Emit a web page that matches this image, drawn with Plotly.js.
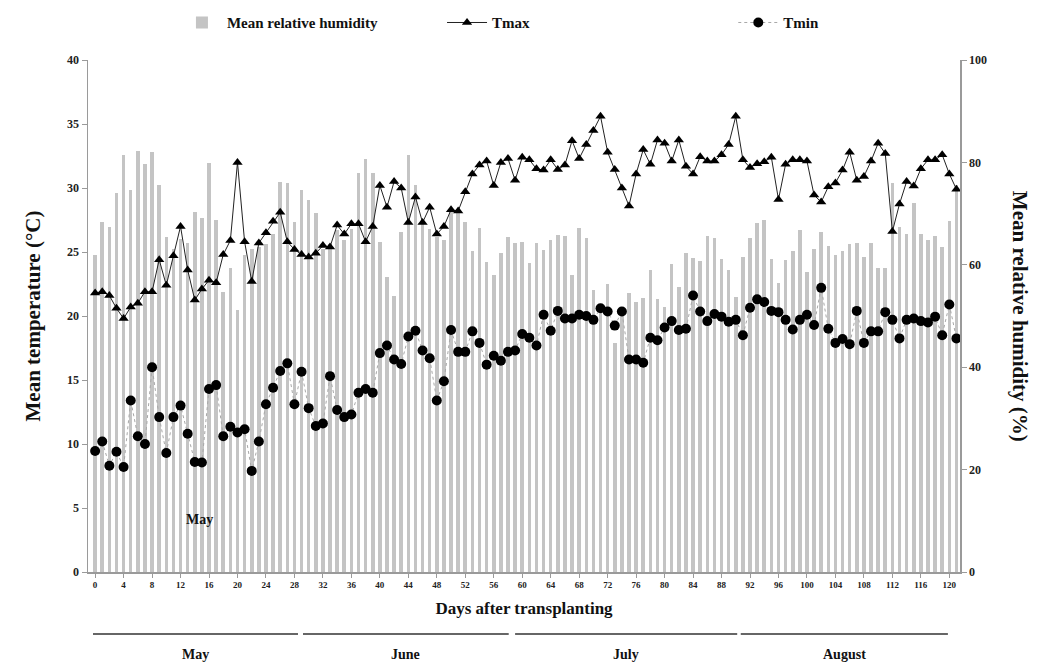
<!DOCTYPE html>
<html>
<head>
<meta charset="utf-8">
<script src="https://cdn.plot.ly/plotly-3.0.1.min.js"></script>
<style>
  html, body { margin: 0; padding: 0; background: #ffffff; }
  #chart { width: 1048px; height: 664px; }
</style>
</head>
<body>
<div id="chart"></div>
<script>
// Days after transplanting (categories)
var days = [0,1,2,3,4,5,6,7,8,9,10,11,12,13,14,15,16,17,18,19,20,21,22,23,24,25,26,27,28,29,
  30,31,32,33,34,35,36,37,38,39,40,41,42,43,44,45,46,47,48,49,50,51,52,53,54,55,56,57,58,59,
  60,61,62,63,64,65,66,67,68,69,70,71,72,73,74,75,76,77,78,79,80,81,82,83,84,85,86,87,88,89,
  90,91,92,93,94,95,96,97,98,99,100,101,102,103,104,105,106,107,108,109,110,111,112,113,114,115,116,117,118,119,
  120,121];

// Mean relative humidity (%)
var humidity = [62,68.4,67.4,74.1,81.4,74.6,82.3,79.7,82.0,75.6,
  65.5,63,65,64.2,70.4,69.1,79.8,68.7,54.6,59.3,
  51.2,62,63,63.5,64,66,76.2,75.9,68.4,74.6,
  72.7,70.1,63,64,66.8,64.8,67,78.0,80.6,78.0,
  64.5,57.7,54.0,66.5,81.4,75.6,68.7,67,65.5,64.8,
  71,70.7,68.4,62.6,67.1,60.6,58.0,62.4,65.4,64.2,
  64.5,60.3,64.2,62.9,64.8,65.8,65.6,58.0,67.1,65.2,
  55.1,52,56.3,44.7,51,54.5,52.8,53.5,59.0,53.3,
  51.7,60.1,55.7,62.4,61.3,60.7,65.6,65.2,61.1,59.0,
  53.8,61.5,65.2,68.1,68.7,61.1,56.5,60.9,62.6,66.8,
  58.5,63.1,66.5,63.7,61.9,62.6,64.1,64.3,61.6,64.2,
  59.3,59.3,75.9,67.3,66.1,72.1,66.0,64.8,65.6,63.5,
  68.6,75.5];

// Maximum temperature (°C)
var tmax = [21.8,21.9,21.6,20.6,19.8,20.7,21.0,21.9,21.9,24.4,
  22.4,24.7,27.0,23.6,21.25,22.1,22.8,22.6,24.8,25.9,
  32.0,25.8,22.7,25.7,26.5,27.4,28.1,25.8,25.2,24.8,
  24.6,24.9,25.5,25.4,27.1,26.4,27.2,27.2,25.8,27.0,
  30.2,28.5,30.5,30.0,27.3,29.3,27.3,28.5,26.4,27.0,
  28.3,28.2,29.7,31.1,31.8,32.1,30.2,32.0,32.3,30.6,
  32.4,32.2,31.5,31.4,32.2,31.45,31.8,33.7,32.3,33.4,
  34.5,35.6,32.8,31.45,30.0,28.6,31.1,33.0,31.85,33.75,
  33.5,32.1,33.75,31.7,31.1,32.45,32.1,32.1,32.6,33.4,
  35.6,32.2,31.6,31.9,32.05,32.4,29.1,31.85,32.2,32.2,
  32.1,29.45,28.9,30.1,30.4,31.4,32.8,30.6,30.9,32.1,
  33.5,32.7,26.6,28.75,30.5,30.15,31.5,32.2,32.2,32.6,
  31.1,29.9];

// Minimum temperature (°C)
var tmin = [9.45,10.2,8.3,9.4,8.2,13.4,10.6,10.0,16.0,12.1,
  9.3,12.1,13.0,10.8,8.6,8.55,14.3,14.6,10.6,11.35,
  10.9,11.15,7.9,10.2,13.1,14.4,15.7,16.3,13.1,15.65,
  12.8,11.4,11.6,15.3,12.65,12.1,12.3,14.0,14.3,14.0,
  17.1,17.7,16.6,16.25,18.4,18.85,17.3,16.7,13.4,14.9,
  18.9,17.2,17.2,18.8,17.9,16.2,16.9,16.5,17.2,17.3,
  18.6,18.3,17.7,20.1,18.85,20.4,19.8,19.8,20.1,20.0,
  19.7,20.6,20.35,19.25,20.35,16.6,16.6,16.35,18.3,18.1,
  19.1,19.6,18.9,19.0,21.6,20.35,19.6,20.15,19.95,19.55,
  19.7,18.5,20.65,21.3,21.1,20.4,20.3,19.7,18.95,19.7,
  20.1,19.3,22.2,19.0,17.9,18.2,17.8,20.4,17.9,18.8,
  18.8,20.3,19.7,18.25,19.7,19.8,19.6,19.5,19.95,18.5,
  20.9,18.25];

// Month bands below the axis (start day, end day, label)
var months = ["May", "June", "July", "August"];
var monthStart = [-0.3, 29.2, 59.0, 90.7];
var monthEnd = [28.5, 58.1, 90.2, 119.8];

var FONT = "'Liberation Serif', 'Times New Roman', serif";

var traces = [
  {
    type: 'bar', name: 'Mean relative humidity', x: days, y: humidity,
    yaxis: 'y', width: 0.5, legend: 'legend',
    marker: { color: '#c4c4c4', line: { width: 0 } }
  },
  {
    type: 'scatter', mode: 'lines+markers', name: 'Tmax', x: days, y: tmax,
    yaxis: 'y2', legend: 'legend2',
    line: { color: '#222222', width: 1 },
    marker: { symbol: 'triangle-up', size: 9, color: '#000000' }
  },
  {
    type: 'scatter', mode: 'lines+markers', name: 'Tmin', x: days, y: tmin,
    yaxis: 'y2', legend: 'legend3',
    line: { color: '#a8a8a8', width: 1, dash: 'dot' },
    marker: { symbol: 'circle', size: 10, color: '#000000' }
  }
];

var shapes = [];
var annotations = [];
for (var i = 0; i < months.length; i++) {
  shapes.push({
    type: 'line', xref: 'x', yref: 'paper',
    x0: monthStart[i], x1: monthEnd[i], y0: -0.121, y1: -0.121,
    line: { color: '#333333', width: 1.5 }
  });
  annotations.push({
    xref: 'x', yref: 'paper', x: (monthStart[i] + monthEnd[i]) / 2, y: -0.162,
    text: months[i], showarrow: false, yanchor: 'middle',
    font: { family: FONT, size: 14, color: '#111', weight: 'bold' }
  });
}
annotations.push({
  xref: 'x', yref: 'y2', x: 14.7, y: 4.1, text: 'May', showarrow: false,
  font: { family: FONT, size: 14, color: '#111', weight: 'bold' }
});
annotations.push({
  xref: 'paper', yref: 'paper', x: 1.069, y: 0.5, text: 'Mean relative humidity (%)',
  textangle: 90, showarrow: false, xanchor: 'center', yanchor: 'middle',
  font: { family: FONT, size: 21, color: '#111', weight: 'bold' }
});

var axisCommon = {
  showgrid: false, zeroline: false, showline: true,
  linecolor: '#9a9a9a', linewidth: 1.5,
  ticks: 'outside', ticklen: 5, tickcolor: '#9a9a9a', tickwidth: 1
};

function legendAt(xp) {
  return {
    orientation: 'h', x: xp, y: 1.105, xanchor: 'left', yanchor: 'top',
    font: { family: FONT, size: 15, color: '#111', weight: 'bold' },
    bgcolor: 'rgba(0,0,0,0)', itemwidth: 40
  };
}

var layout = {
  width: 1048, height: 664,
  margin: { l: 88, r: 88, t: 60, b: 92, autoexpand: false },
  paper_bgcolor: '#ffffff', plot_bgcolor: '#ffffff',
  font: { family: FONT, color: '#111' },
  showlegend: true,
  bargap: 0,
  legend: legendAt(0.102),
  legend2: legendAt(0.406),
  legend3: legendAt(0.740),
  xaxis: Object.assign({}, axisCommon, {
    range: [-1, 121.5], tickmode: 'linear', tick0: 0, dtick: 4, ticklen: 4,
    tickfont: { family: FONT, size: 9, color: '#222', weight: 'bold' },
    title: { text: 'Days after transplanting', standoff: 13,
      font: { family: FONT, size: 17, color: '#111', weight: 'bold' } }
  }),
  yaxis: Object.assign({}, axisCommon, {
    side: 'right', range: [0, 100], tickmode: 'linear', tick0: 0, dtick: 20,
    tickfont: { family: FONT, size: 12, color: '#222', weight: 'bold' }
  }),
  yaxis2: Object.assign({}, axisCommon, {
    overlaying: 'y', side: 'left', range: [0, 40], tickmode: 'linear', tick0: 0, dtick: 5,
    tickfont: { family: FONT, size: 12, color: '#222', weight: 'bold' },
    title: { text: 'Mean temperature (°C)', standoff: 20,
      font: { family: FONT, size: 21, color: '#111', weight: 'bold' } }
  }),
  shapes: shapes,
  annotations: annotations
};

Plotly.newPlot('chart', traces, layout, { displayModeBar: false, staticPlot: true });
</script>
</body>
</html>
